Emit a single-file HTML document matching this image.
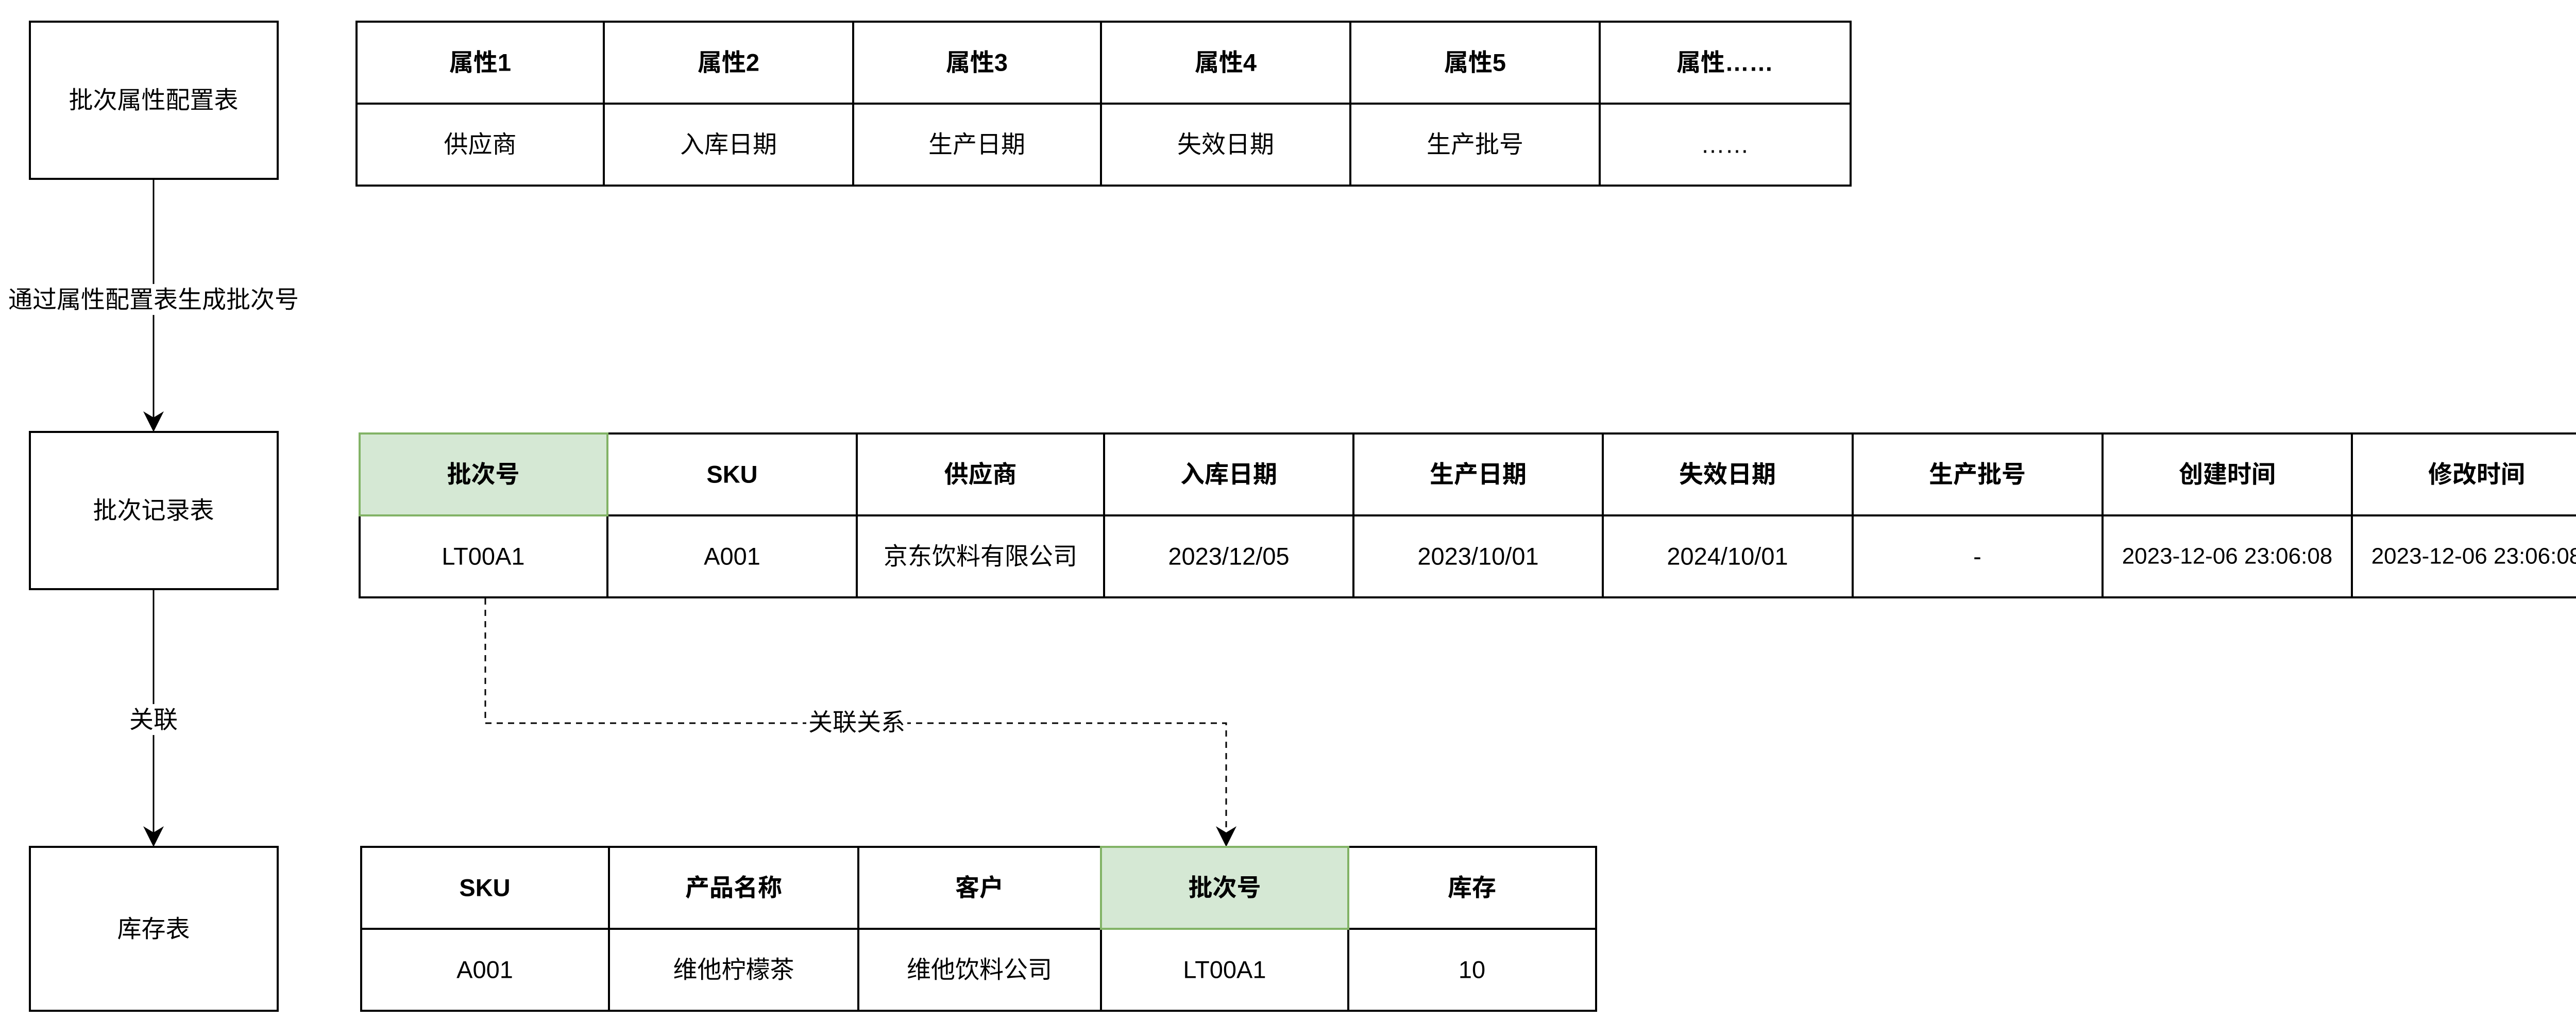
<!DOCTYPE html>
<html><head><meta charset="utf-8"><style>
html,body{margin:0;padding:0;background:#fff;overflow:hidden;width:5092px;height:2008px;}
svg{display:block;}
svg text{font-family:"Liberation Sans","Noto Sans CJK SC",sans-serif;font-size:47px;fill:#000;}
.b{font-weight:bold;}
</style></head><body>
<svg width="5092" height="2008" viewBox="0 0 5092 2008" xmlns="http://www.w3.org/2000/svg">
<g fill="#fff" stroke="#000" stroke-width="4">
<rect x="58" y="42" width="481" height="305"/>
<rect x="58" y="838" width="481" height="305"/>
<rect x="58" y="1643" width="481" height="318"/>
</g>
<g text-anchor="middle" dominant-baseline="central">
<text x="298" y="194">批次属性配置表</text>
<text x="298" y="990">批次记录表</text>
<text x="298" y="1802">库存表</text>
</g>
<g stroke="#000" stroke-width="3" fill="none">
<line x1="298" y1="347" x2="298" y2="820"/>
<line x1="298" y1="1143" x2="298" y2="1625"/>
<polyline points="942,1161 942,1403 2380,1403 2380,1625" stroke-dasharray="12,10"/>
</g>
<path d="M298,838 l-20,-40 l20,12 l20,-12z" fill="#000"/>
<path d="M298,1643 l-20,-40 l20,12 l20,-12z" fill="#000"/>
<path d="M2380,1643 l-20,-40 l20,12 l20,-12z" fill="#000"/>
<rect x="30" y="551" width="536" height="60" fill="#fff"/>
<rect x="255" y="1366" width="86" height="60" fill="#fff"/>
<rect x="1565" y="1373" width="196" height="60" fill="#fff"/>
<g text-anchor="middle" dominant-baseline="central">
<text x="298" y="581">通过属性配置表生成批次号</text>
<text x="298" y="1396">关联</text>
<text x="1663" y="1401">关联关系</text>
</g>
<!-- table 1 -->
<g fill="#fff" stroke="#000" stroke-width="4">
<rect x="692" y="42" width="480" height="159"/><rect x="1172" y="42" width="484" height="159"/><rect x="1656" y="42" width="481" height="159"/><rect x="2137" y="42" width="484" height="159"/><rect x="2621" y="42" width="484" height="159"/><rect x="3105" y="42" width="487" height="159"/>
<rect x="692" y="201" width="480" height="159"/><rect x="1172" y="201" width="484" height="159"/><rect x="1656" y="201" width="481" height="159"/><rect x="2137" y="201" width="484" height="159"/><rect x="2621" y="201" width="484" height="159"/><rect x="3105" y="201" width="487" height="159"/>
</g>
<g text-anchor="middle" dominant-baseline="central">
<text class="b" x="932" y="121">属性1</text><text class="b" x="1414" y="121">属性2</text><text class="b" x="1896" y="121">属性3</text><text class="b" x="2379" y="121">属性4</text><text class="b" x="2863" y="121">属性5</text><text class="b" x="3348" y="121">属性……</text>
<text x="932" y="280">供应商</text><text x="1414" y="280">入库日期</text><text x="1896" y="280">生产日期</text><text x="2379" y="280">失效日期</text><text x="2863" y="280">生产批号</text><text x="3348" y="280">……</text>
</g>
<!-- table 2 -->
<g fill="#fff" stroke="#000" stroke-width="4">
<rect x="1179" y="841" width="484" height="159"/><rect x="1663" y="841" width="480" height="159"/><rect x="2143" y="841" width="484" height="159"/><rect x="2627" y="841" width="484" height="159"/><rect x="3111" y="841" width="485" height="159"/><rect x="3596" y="841" width="485" height="159"/><rect x="4081" y="841" width="484" height="159"/><rect x="4565" y="841" width="485" height="159"/>
<rect x="698" y="1000" width="481" height="159"/><rect x="1179" y="1000" width="484" height="159"/><rect x="1663" y="1000" width="480" height="159"/><rect x="2143" y="1000" width="484" height="159"/><rect x="2627" y="1000" width="484" height="159"/><rect x="3111" y="1000" width="485" height="159"/><rect x="3596" y="1000" width="485" height="159"/><rect x="4081" y="1000" width="484" height="159"/><rect x="4565" y="1000" width="485" height="159"/>
</g>
<rect x="698" y="841" width="481" height="159" fill="#d5e8d4" stroke="#82b366" stroke-width="4"/>
<g text-anchor="middle" dominant-baseline="central">
<text class="b" x="938" y="920">批次号</text><text class="b" x="1421" y="920">SKU</text><text class="b" x="1903" y="920">供应商</text><text class="b" x="2385" y="920">入库日期</text><text class="b" x="2869" y="920">生产日期</text><text class="b" x="3353" y="920">失效日期</text><text class="b" x="3838" y="920">生产批号</text><text class="b" x="4323" y="920">创建时间</text><text class="b" x="4807" y="920">修改时间</text>
<text x="938" y="1079">LT00A1</text><text x="1421" y="1079">A001</text><text x="1903" y="1079">京东饮料有限公司</text><text x="2385" y="1079">2023/12/05</text><text x="2869" y="1079">2023/10/01</text><text x="3353" y="1079">2024/10/01</text><text x="3838" y="1079">-</text><text x="4323" y="1079" style="font-size:44px">2023-12-06 23:06:08</text><text x="4807" y="1079" style="font-size:44px">2023-12-06 23:06:08</text>
</g>
<!-- table 3 -->
<g fill="#fff" stroke="#000" stroke-width="4">
<rect x="701" y="1643" width="481" height="159"/><rect x="1182" y="1643" width="484" height="159"/><rect x="1666" y="1643" width="471" height="159"/><rect x="2617" y="1643" width="481" height="159"/>
<rect x="701" y="1802" width="481" height="159"/><rect x="1182" y="1802" width="484" height="159"/><rect x="1666" y="1802" width="471" height="159"/><rect x="2137" y="1802" width="480" height="159"/><rect x="2617" y="1802" width="481" height="159"/>
</g>
<rect x="2137" y="1643" width="480" height="159" fill="#d5e8d4" stroke="#82b366" stroke-width="4"/>
<g text-anchor="middle" dominant-baseline="central">
<text class="b" x="941" y="1722">SKU</text><text class="b" x="1424" y="1722">产品名称</text><text class="b" x="1901" y="1722">客户</text><text class="b" x="2377" y="1722">批次号</text><text class="b" x="2857" y="1722">库存</text>
<text x="941" y="1881">A001</text><text x="1424" y="1881">维他柠檬茶</text><text x="1901" y="1881">维他饮料公司</text><text x="2377" y="1881">LT00A1</text><text x="2857" y="1881">10</text>
</g>
</svg>
</body></html>
